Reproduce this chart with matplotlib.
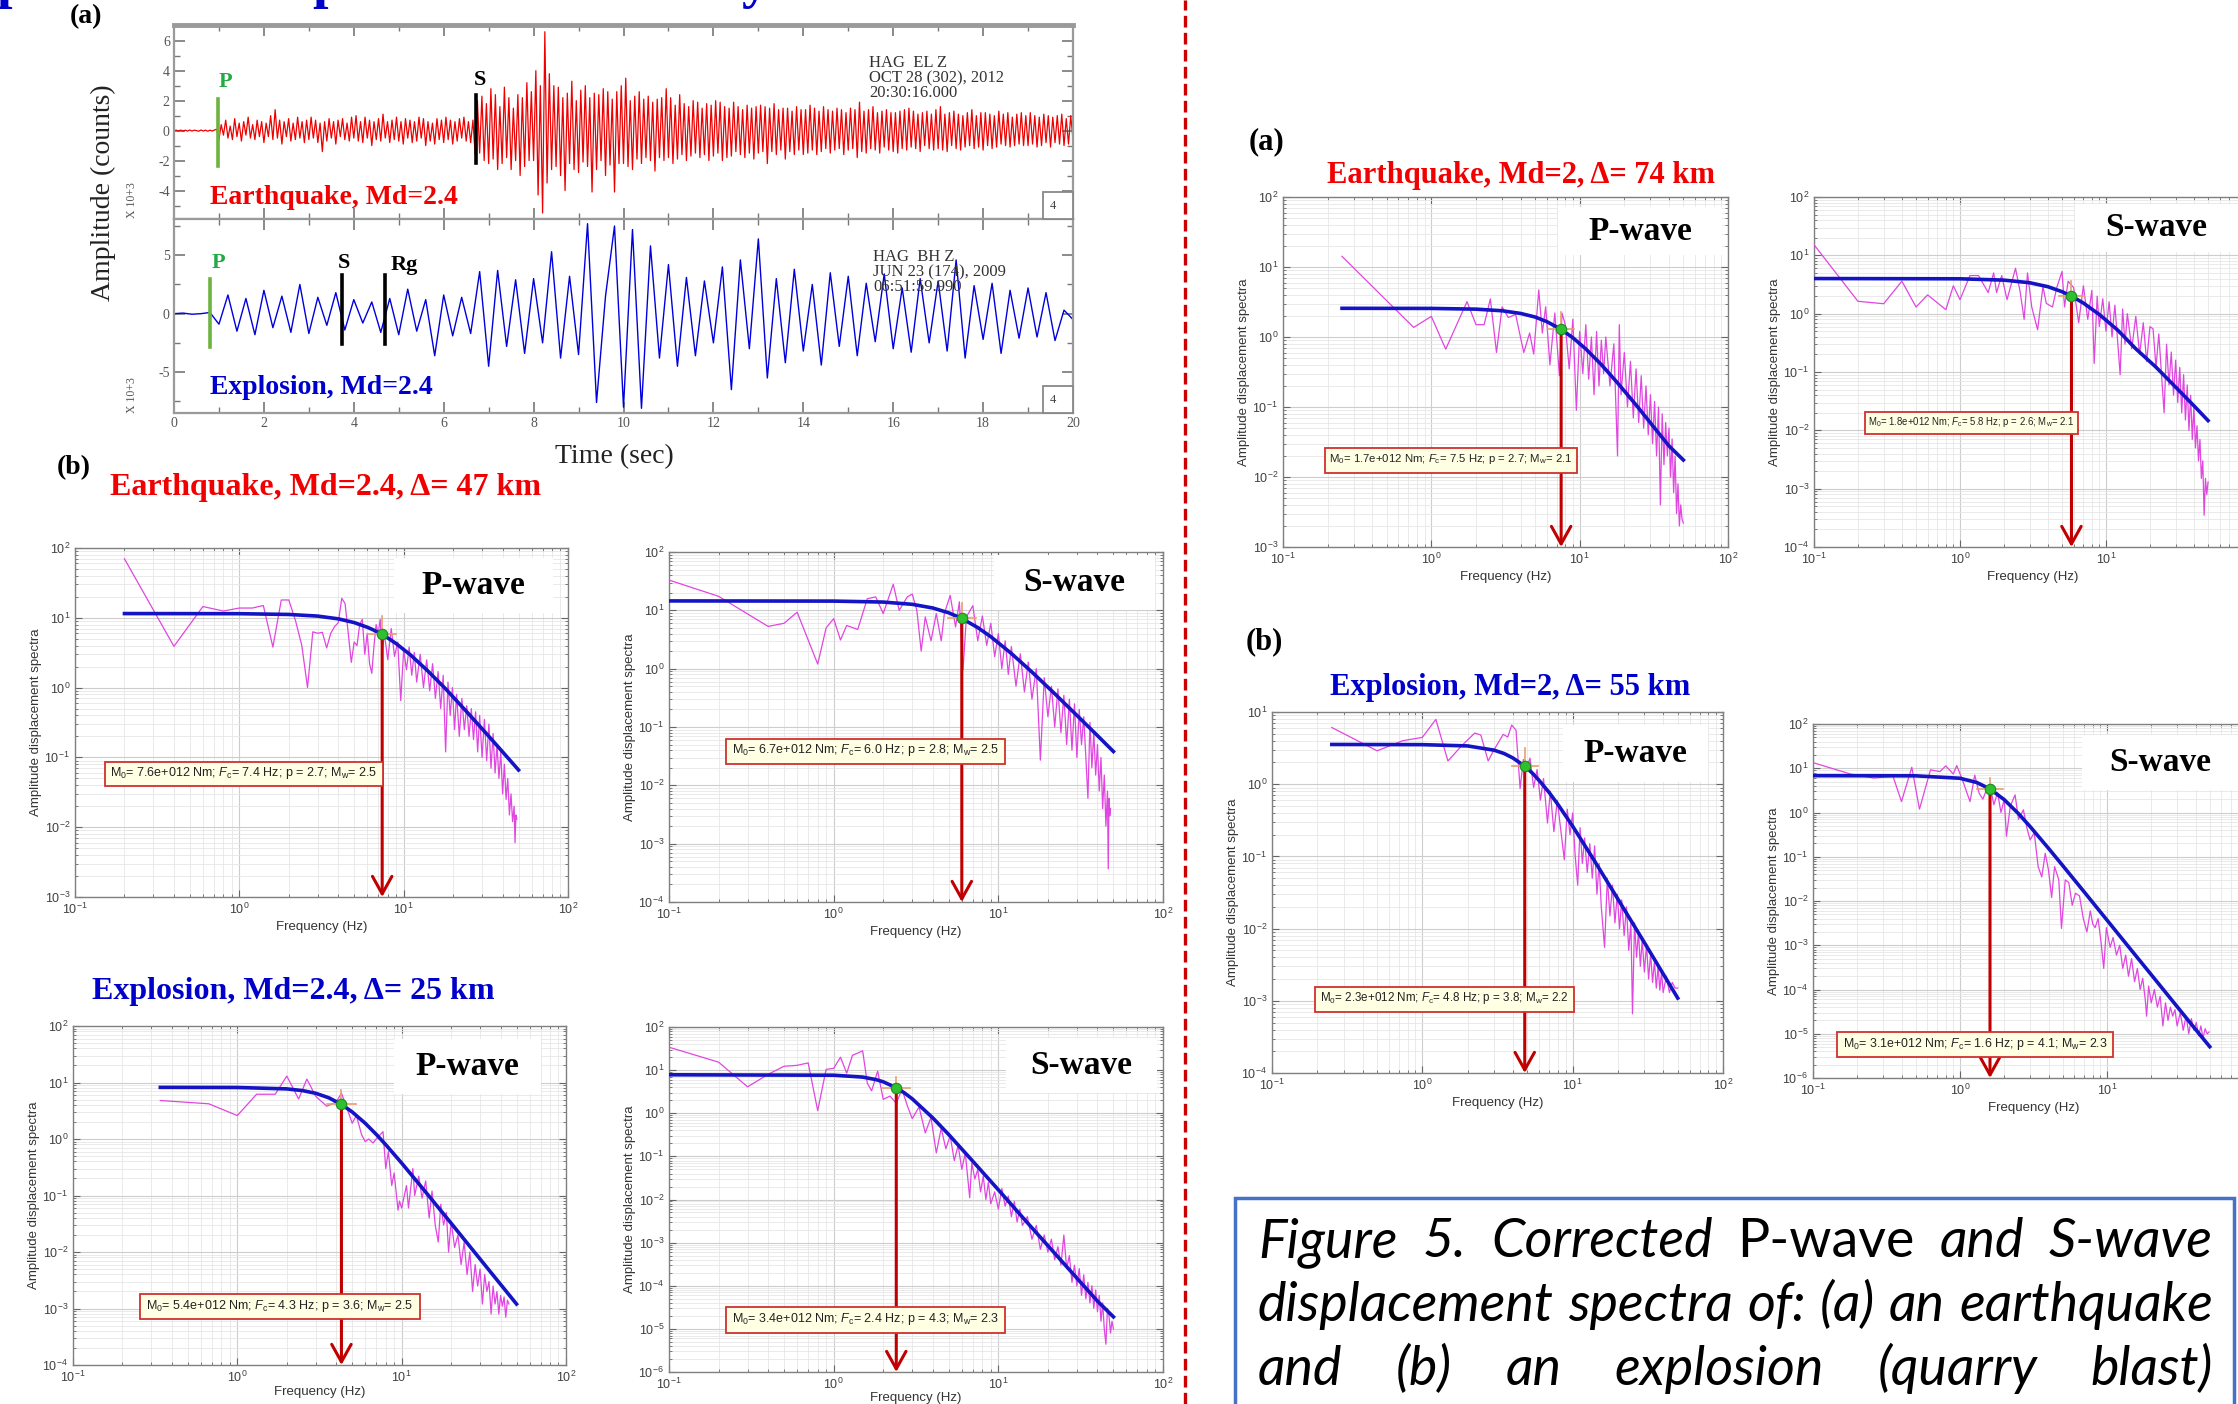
import numpy as np
import matplotlib
matplotlib.use('Agg')
import matplotlib.pyplot as plt
from matplotlib.patches import Rectangle
from matplotlib.lines import Line2D
from matplotlib.ticker import LogLocator, MultipleLocator, NullFormatter, FixedLocator

plt.rcParams['font.family'] = ['Liberation Sans', 'DejaVu Sans']
plt.rcParams['mathtext.fontset'] = 'custom'
plt.rcParams['mathtext.rm'] = 'Liberation Sans'
plt.rcParams['mathtext.it'] = 'Liberation Sans:italic'
plt.rcParams['mathtext.bf'] = 'Liberation Sans:bold'
plt.rcParams['mathtext.sf'] = 'Liberation Sans'
plt.rcParams['axes.unicode_minus'] = False

W, H = 2238, 1404
SERIF = 'Liberation Serif'
RED = '#F00000'
BLUE = '#0000CC'

# ======================= DATA =======================
# Seismograms (sampled amplitudes, x10^3 counts)
eq_dt = 0.05
eq_trace = (
    [0,0.03,-0.03,0.04,-0.04,0.03,-0.03,0.04,-0.03,0.03,0,-0.04,0.04,-0.03,0.03,-0.04,0.03,-0.03,0.04,0.1] +
    [-0.6,0.4,-0.3,0.7,-0.5,0.3,-0.6,0.8,-0.4,0.5,-0.7,0.6,-0.3,0.9,-0.5,0.4,-0.6,0.7,-0.4,0.6] +
    [-0.8,0.5,-0.4,1.0,-0.6,1.4,-0.5,0.7,-0.9,0.6,-0.4,0.8,-0.7,0.5,-0.6,0.9,-0.5,0.6,-0.8,0.7] +
    [-0.6,0.9,-0.5,0.7,-0.8,0.5,-1.4,0.6,-0.7,0.8,-0.5,0.6,-0.9,0.7,-0.4,0.8,-0.6,0.5,-0.7,0.9] +
    [-0.5,1.0,-0.7,0.6,-0.8,0.9,-0.5,0.7,-1.0,0.6,-0.6,0.8,-0.7,1.1,-0.5,0.6,-0.8,0.7,-0.6,0.9] +
    [-0.7,0.6,-0.9,0.8,-0.5,0.7,-0.8,0.6,-0.7,0.9,-0.5,0.8,-1.0,0.6,-0.7,0.5,-0.9,0.8,-0.6,0.7] +
    [-0.8,0.9,-0.6,0.7,-0.9,0.6,-0.7,0.8,-0.5,0.9,-0.7,0.6,-0.8,0.7,-1.6,2.0,-1.5,2.3,-2.0,1.8] +
    [-2.2,2.8,-1.9,2.4,-2.6,1.6,-2.2,2.9,-1.8,2.2,-2.6,1.5,-2.0,2.4,-3.0,2.2,-2.4,3.2,-2.0,2.6] +
    [-2.0,4.0,-4.3,3.0,-5.5,6.6,-3.5,3.8,-2.6,3.0,-2.4,2.9,-3.0,2.2,-4.0,2.5,-2.2,3.3,-2.6,2.0] +
    [-2.8,2.7,-2.1,3.0,-2.4,2.2,-4.1,2.5,-2.6,2.4,-2.0,2.8,-3.0,2.6,-2.3,2.1,-4.1,2.6,-2.2,3.0] +
    [-2.2,3.5,-2.4,2.0,-2.6,2.3,-1.9,2.6,-2.2,2.1,-1.8,2.3,-2.0,1.9,-2.7,2.1,-1.8,2.2,-2.0,2.8] +
    [-1.8,2.2,-2.2,1.7,-1.9,2.4,-1.6,1.8,-2.0,1.6,-1.7,2.0,-1.5,1.9,-1.8,1.5,-1.6,1.8,-2.0,1.7] +
    [-1.7,2.0,-1.5,1.9,-2.0,1.6,-1.8,1.5,-1.7,1.9,-1.4,1.6,-1.6,1.4,-1.8,1.7,-1.5,1.5,-1.9,1.6] +
    [-1.5,1.7,-1.4,1.6,-2.2,1.5,-1.4,1.8,-1.6,1.4,-1.3,1.5,-1.9,1.5,-1.4,1.3,-1.6,1.6,-1.3,1.4] +
    [-1.6,1.4,-1.5,1.7,-1.3,1.5,-1.6,1.3,-1.4,1.6,-1.2,1.4,-1.5,1.3,-1.3,1.5,-1.2,1.4,-1.6,1.2] +
    [-1.3,1.5,-1.2,1.4,-1.8,1.9,-1.4,1.3,-1.5,1.4,-1.2,1.6,-1.3,1.2,-1.5,1.3,-1.1,1.4,-1.3,1.2] +
    [-1.4,1.2,-1.5,1.3,-1.2,1.4,-1.3,1.5,-1.1,1.3,-1.2,1.1,-1.4,1.2,-1.0,1.3,-1.2,1.1,-1.3,1.4] +
    [-1.2,1.6,-1.3,1.1,-1.4,1.2,-1.0,1.3,-1.2,1.1,-1.3,1.0,-1.1,1.2,-1.0,1.4,-1.2,1.0,-1.1,1.2] +
    [-1.3,1.2,-1.0,1.1,-1.2,1.0,-1.1,1.3,-0.9,1.1,-1.0,1.2,-1.1,0.9,-1.0,1.1,-0.9,1.2,-1.0,1.0] +
    [-1.0,1.2,-0.9,1.0,-1.1,0.9,-1.0,1.1,-0.8,1.0,-1.1,0.9,-0.8,1.0,-0.9,1.1,-1.0,0.8,-0.9,1.0] +
    [-0.6])

ex_dt = 0.2
ex_trace = (
    [0, 0.05, -0.05, 0, 0.1] +
    [-0.9, 1.6, -1.5, 1.3, -1.8, 2.0, -1.2, 1.5, -1.6, 2.5] +
    [-1.7, 1.4, -1.0, 1.8, -1.4, 1.2, -0.8, 1.0, -1.6, 1.3] +
    [-1.8, 2.1, -1.5, 1.2, -3.6, 1.6, -1.9, 1.4, -1.7, 3.6] +
    [-4.5, 3.7, -2.8, 2.9, -3.4, 3.0, -2.5, 5.3, -3.8, 3.2] +
    [-3.5, 7.7, -7.6, 1.5, 7.5, -8.0, 7.2, -8.1, 5.8, -3.8] +
    [4.2, -4.5, 3.1, -3.6, 2.8, -2.5, 4.0, -6.5, 4.6, -3.0] +
    [6.4, -5.5, 3.0, -4.2, 3.8, -3.2, 2.5, -4.4, 3.5, -2.8] +
    [3.2, -3.6, 2.6, -2.4, 3.4, -3.0, 2.2, -3.3, 3.0, -2.5] +
    [2.8, -3.2, 4.6, -3.8, 2.4, -2.2, 2.6, -3.4, 2.0, -2.1] +
    [2.2, -2.0, 1.8, -2.3, 0.3, -0.5])

eq_picks = [("P", 0.97, -2.33, 2.13), ("S", 6.71, -2.16, 2.36)]
ex_picks = [("P", 0.81, -2.84, 2.96), ("S", 3.73, -2.56, 3.33), ("Rg", 4.70, -2.56, 3.33)]

# Spectra: (frequency Hz, amplitude) observed
eq24_p = [(0.2,70),(0.4,3.9),(0.6,14.5),(0.8,12.5),(1.0,13.8),(1.2,13.8),(1.4,15),(1.6,3.8),(1.8,18),(2.0,18),
    (2.2,9),(2.4,4),(2.6,1.0),(2.8,6.3),(3.0,6.0),(3.2,6.2),(3.4,3.7),(3.6,6.0),(3.8,7.5),(4.0,8.5),(4.2,19),
    (4.4,16),(4.6,6),(4.8,2.3),(5.0,4.5),(5.2,4),(5.4,8),(5.6,9.5),(5.8,3),(6.0,6),(6.2,2.2),(6.4,1.6),(6.6,4),
    (6.8,8),(7.0,6),(7.2,9.5),(7.4,3),(7.6,6),(7.8,4),(8.0,2.5),(8.4,7),(8.8,2.8),(9.2,4.5),(9.6,0.65),(10.0,3.5),
    (10.4,1.8),(10.8,3.8),(11.2,1.5),(11.6,3.2),(12.0,1.2),(12.6,3.0),(13.2,1.0),(13.8,2.5),(14.4,0.9),(15.0,2.2),
    (15.6,0.7),(16.2,1.7),(16.8,0.5),(17.4,1.5),(18.0,0.12),(18.6,1.2),(19.2,0.4),(19.8,1.0),(20.4,0.25),(21.0,0.8),
    (21.8,0.2),(22.6,0.7),(23.4,0.25),(24.2,0.55),(25.0,0.2),(25.8,0.5),(26.6,0.18),(27.4,0.45),(28.2,0.12),
    (29.0,0.4),(30.0,0.1),(31.0,0.35),(32.0,0.09),(33.0,0.3),(34.0,0.07),(35.0,0.22),(36.0,0.06),(37.0,0.15),
    (38.0,0.05),(39.0,0.12),(40.0,0.03),(41.0,0.08),(42.0,0.025),(43.0,0.05),(44.0,0.015),(45.0,0.03),(46.0,0.012),
    (47.0,0.02),(47.6,0.006),(48.2,0.015),(48.8,0.013)]
eq24_s = [(0.1,33),(0.2,17.4),(0.4,5.3),(0.5,6.0),(0.6,9.3),(0.8,1.2),(0.9,5),(1.0,7.2),(1.1,3.1),(1.2,5.5),
    (1.4,4.7),(1.5,8.8),(1.6,15.8),(1.8,17),(2.0,8.8),(2.3,28),(2.5,10),(2.8,17),(3.0,19),(3.2,10),(3.4,2),(3.6,7.7),
    (3.9,3),(4.2,8.8),(4.5,3),(4.7,8.8),(5.1,18),(5.5,5.2),(5.8,14),(6.1,0.95),(6.4,7.7),(7.0,12),(7.5,3),(8.0,8),
    (8.5,2.5),(9.0,6),(9.5,1.6),(10,4),(10.5,1.0),(11,3),(11.5,0.8),(12,2.4),(12.8,0.5),(13.6,1.8),(14.4,0.4),
    (15.2,1.3),(16,0.3),(17,1.0),(18,0.027),(19,0.7),(20,0.15),(21,0.5),(22,0.1),(23,0.45),(24,0.08),(25,0.35),
    (26,0.05),(27,0.3),(28,0.04),(29,0.25),(30,0.03),(31,0.2),(32,0.05),(33,0.15),(34,0.03),(35,0.006),(36,0.12),
    (37,0.02),(38,0.08),(39,0.015),(40,0.05),(41,0.008),(42,0.03),(43,0.004),(44,0.015),(45,0.002),(46,0.008),
    (46.5,0.00037),(47,0.006),(47.5,0.003),(48,0.004)]
ex24_p = [(0.34,4.8),(0.67,4.2),(1.0,2.6),(1.31,6.2),(1.7,6.2),(2.0,13),(2.36,5.1),(2.65,11.5),(3.0,5.7),(3.5,3.8),
    (4.0,4.5),(4.3,6.5),(4.7,3.2),(5.0,1.9),(5.3,2.6),(5.7,1.2),(6.0,0.9),(6.3,1.0),(6.7,0.85),(7.0,1.0),(7.7,1.35),
    (8.0,0.3),(8.3,0.6),(8.7,0.15),(9.0,0.25),(9.5,0.055),(9.7,0.08),(10.0,0.06),(10.3,0.09),(10.7,0.15),(11.0,0.06),
    (11.3,0.12),(11.7,0.3),(12.0,0.1),(12.7,0.22),(13.3,0.09),(14.0,0.18),(14.7,0.04),(15.3,0.12),(16.0,0.03),
    (16.7,0.015),(17.3,0.07),(18.0,0.03),(18.7,0.05),(19.3,0.01),(20,0.035),(21,0.012),(22,0.02),(23,0.006),
    (24,0.015),(25,0.004),(26,0.01),(27,0.002),(28,0.006),(29,0.0025),(30,0.005),(31,0.0012),(32,0.004),(33,0.002),
    (34,0.003),(35,0.0008),(36,0.0025),(37,0.0012),(38,0.002),(39,0.0008),(40,0.0017),(41,0.0011),(42,0.0016),
    (43,0.0007),(44,0.0014),(45,0.0012)]
ex24_s = [(0.1,34),(0.2,15.3),(0.3,4.1),(0.4,8),(0.5,12.3),(0.6,12.9),(0.7,14.7),(0.8,1.15),(0.9,10.4),(1.0,11),
    (1.1,20),(1.2,8.5),(1.3,22),(1.5,28),(1.6,5),(1.7,3.3),(1.85,9.5),(2.0,2.1),(2.2,2.5),(2.4,1.7),(2.6,3.6),
    (2.8,1.5),(3.0,0.75),(3.3,1.4),(3.6,0.35),(3.9,0.8),(4.2,0.12),(4.5,0.45),(4.8,0.15),(5.1,0.3),(5.4,0.08),
    (5.7,0.18),(6.0,0.05),(6.3,0.12),(6.7,0.011),(6.9,0.07),(7.2,0.03),(7.5,0.05),(7.8,0.015),(8.1,0.035),(8.4,0.01),
    (8.7,0.025),(9.0,0.008),(9.5,0.015),(10,0.006),(10.5,0.018),(11,0.007),(11.5,0.012),(12,0.004),(12.5,0.009),
    (13,0.003),(13.5,0.006),(14,0.0025),(15,0.004),(16,0.0012),(17,0.0025),(18,0.0007),(19,0.0015),(20,0.0006),
    (21,0.0012),(22,0.0004),(23,0.0008),(24,0.0003),(25,0.0015),(26,0.00025),(27,0.0005),(28,0.00012),(29,0.0003),
    (30,0.0001),(31,0.00025),(32,0.00006),(33,0.00018),(34,0.00005),(35,0.00012),(36,0.00004),(37,0.0001),
    (38,0.00003),(39,0.00008),(40,0.000025),(41,0.00006),(42,0.000015),(43,0.00004),(44,0.00001),(45,0.0000044),
    (46,0.00003),(47,0.00002),(48,0.000008),(49,0.000015),(50,0.00001)]
eq2_p = [(0.25,14.2),(0.76,1.37),(1.0,1.97),(1.25,0.67),(1.74,3.2),(2.0,1.5),(2.27,1.5),(2.5,3.5),(2.75,0.6),
    (3.0,2.7),(3.3,1.9),(3.7,2.1),(4.2,0.6),(4.6,1.14),(4.9,0.57),(5.3,4.7),(5.6,1.14),(5.9,2.7),(6.3,0.4),(6.8,2.2),
    (7.3,0.28),(7.6,2.2),(8,1.5),(8.5,0.35),(9,1.8),(9.5,0.09),(10,1.2),(10.5,0.3),(11,1.5),(11.5,0.25),(12,1.0),
    (12.5,0.15),(13,1.2),(13.5,0.2),(14,0.9),(14.5,0.3),(15,1.0),(16,0.2),(17,0.8),(18,0.02),(18.5,1.5),(19,0.15),
    (20,0.6),(21,0.1),(22,0.45),(23,0.07),(24,0.35),(25,0.06),(26,0.28),(27,0.05),(28,0.2),(29,0.04),(30,0.15),
    (31,0.03),(32,0.12),(33,0.02),(34,0.1),(35,0.004),(36,0.08),(37,0.015),(38,0.06),(39,0.02),(40,0.05),(41,0.01),
    (42,0.035),(43,0.006),(44,0.02),(45,0.003),(46,0.008),(47,0.002),(48,0.004),(49,0.0025),(50,0.0022)]
eq2_s = [(0.1,15.2),(0.2,1.63),(0.3,1.48),(0.4,3.6),(0.5,1.3),(0.6,2.1),(0.8,1.17),(0.9,3.0),(1.0,1.74),(1.17,4.5),
    (1.34,4.5),(1.56,2.3),(1.7,5),(1.78,2.3),(1.93,4.5),(2.1,1.74),(2.4,6),(2.58,2.4),(2.75,0.8),(2.9,5),(3.1,1.3),
    (3.4,0.53),(3.7,2.9),(3.9,1.5),(4.3,1.3),(4.6,2.8),(5.0,5.3),(5.2,1.3),(5.5,3.6),(6,2.8),(6.5,0.7),(7,3),
    (7.5,0.8),(8,2.5),(8.3,0.14),(8.7,2),(9,0.6),(9.5,1.8),(10,0.5),(10.5,1.6),(11,0.4),(11.5,1.4),(12,0.35),
    (12.5,0.09),(13,1.2),(13.5,0.3),(14,1.0),(15,0.25),(16,0.9),(17,0.2),(18,0.7),(19,0.15),(20,0.6),(21,0.55),
    (22,0.12),(23,0.45),(24,0.09),(25,0.02),(26,0.3),(27,0.06),(28,0.22),(29,0.04),(30,0.16),(31,0.03),(32,0.12),
    (33,0.02),(34,0.09),(35,0.015),(36,0.06),(37,0.01),(38,0.04),(39,0.007),(40,0.025),(41,0.005),(42,0.012),
    (43,0.003),(44,0.007),(45,0.0015),(46,0.003),(47,0.00035),(48,0.0015),(49,0.0008),(50,0.0013)]
ex2_p = [(0.25,6.1),(0.5,2.9),(0.74,4.0),(1.0,4.45),(1.23,7.9),(1.48,2.1),(1.85,3.5),(2.23,5.1),(2.45,4.8),
    (2.74,2.1),(3.0,3.0),(3.45,4.9),(3.7,4.5),(3.93,6.6),(4.2,5.6),(4.47,0.87),(4.7,2.2),(4.9,1.6),(5.2,2.3),
    (5.5,0.9),(5.8,1.6),(6.1,0.6),(6.4,1.2),(6.8,0.29),(7.1,0.8),(7.5,0.22),(7.9,0.6),(8.3,0.25),(8.8,0.09),
    (9.2,0.45),(9.6,0.2),(10.0,0.4),(10.4,0.1),(10.8,0.04),(11.2,0.25),(11.6,0.08),(12.0,0.18),(12.5,0.06),
    (13.0,0.15),(13.5,0.05),(14.0,0.14),(14.5,0.03),(15.0,0.08),(15.5,0.02),(16.3,0.0055),(17.0,0.05),(17.7,0.015),
    (18.4,0.04),(19.1,0.012),(19.8,0.03),(20.5,0.01),(21.2,0.025),(22.0,0.008),(22.8,0.02),(23.6,0.005),(24.4,0.012),
    (25.0,0.00066),(25.8,0.012),(26.6,0.004),(27.4,0.009),(28.2,0.003),(29.0,0.007),(30,0.0025),(31,0.006),
    (32,0.002),(33,0.0045),(34,0.0018),(35,0.0035),(36,0.0015),(37,0.003),(38,0.0014),(39,0.0025),(40,0.0013),
    (42,0.0022),(44,0.0013),(46,0.0018),(48,0.0015),(50,0.0015)]
ex2_s = [(0.1,13.4),(0.18,7.4),(0.26,6.0),(0.35,6.6),(0.4,1.77),(0.47,10.5),(0.53,1.19),(0.63,9.2),(0.73,8.4),
    (0.8,11.3),(0.9,7.4),(0.95,11.5),(1.03,5.9),(1.17,1.77),(1.26,7.0),(1.35,2.7),(1.43,2.0),(1.5,3.0),(1.6,4),
    (1.7,1.5),(1.8,2.8),(1.9,1.0),(2.0,2.0),(2.07,0.29),(2.2,1.4),(2.37,2.5),(2.5,0.7),(2.7,1.15),(2.85,0.45),
    (3.0,0.24),(3.2,0.35),(3.4,0.06),(3.6,0.035),(3.8,0.12),(4.0,0.05),(4.2,0.012),(4.4,0.06),(4.7,0.03),
    (4.9,0.0024),(5.2,0.03),(5.5,0.026),(5.8,0.008),(6.1,0.015),(6.5,0.013),(6.9,0.004),(7.3,0.002),(7.7,0.006),
    (8.0,0.003),(8.3,0.0025),(8.7,0.004),(9.1,0.0012),(9.5,0.0003),(9.9,0.0025),(10.5,0.0009),(11.0,0.0015),
    (11.6,0.0006),(12.2,0.001),(12.8,0.0003),(13.4,0.0006),(14.0,0.0002),(14.7,0.0005),(15.4,0.00015),(16.1,0.0003),
    (16.8,0.0001),(17.5,0.00018),(18.2,0.00006),(18.6,0.000025),(19.2,0.00012),(20,0.00005),(21,0.0001),
    (22,0.00004),(23,0.00007),(24,0.000015),(25,0.00005),(26,0.00002),(27,0.00004),(28,0.000025),(29,0.000035),
    (30,0.000015),(31.5,0.00003),(33,0.000012),(34.5,0.000025),(36,0.00001),(37.5,0.000022),(39,0.000012),
    (40.5,0.000018),(42,0.000009),(43.5,0.000015),(45,0.000008),(46.5,0.000013),(48,0.00001),(49.5,0.000011)]

# Fitted source-model curves
eq24_p_fit = [(0.2,11.5),(1,11.45),(2,11.17),(3,10.58),(4,9.66),(5,8.54),(6,7.33),(6.5,6.75),(7.4,5.75),(8,5.15),
    (9,4.27),(11,2.94),(14,1.74),(18,0.96),(24,0.46),(32,0.217),(40,0.12),(50,0.066)]
eq24_s_fit = [(0.1,14.5),(1,14.4),(2,13.86),(3,12.68),(4,10.97),(5,9.06),(6,7.25),(7.5,5.06),(9,3.53),(12,1.82),
    (16,0.875),(22,0.372),(30,0.158),(40,0.0712),(50,0.038)]
ex24_p_fit = [(0.34,8.2),(1,8.16),(2,7.71),(2.5,7.18),(3,6.44),(3.6,5.37),(4.3,4.1),(5,3.01),(6,1.90),(7,1.21),
    (8,0.793),(10,0.375),(14,0.115),(20,0.0323),(30,0.0075),(40,0.00267),(50,0.0012)]
ex24_s_fit = [(0.1,7.8),(1,7.62),(1.5,6.89),(1.8,6.05),(2,5.36),(2.4,3.9),(2.7,2.93),(3,2.16),(4,0.78),(5,0.32),
    (7,0.077),(10,0.0168),(15,0.0029),(20,0.00085),(30,0.00015),(40,0.000044),(50,0.000019)]
eq2_p_fit = [(0.25,2.57),(1,2.56),(2,2.5),(3,2.37),(4,2.17),(5,1.93),(6,1.66),(7.5,1.285),(9,0.975),(11,0.675),
    (14,0.403),(18,0.221),(24,0.107),(32,0.05),(40,0.0278),(50,0.0175)]
eq2_s_fit = [(0.1,4.0),(1,3.96),(2,3.76),(3,3.39),(4,2.9),(5,2.38),(5.8,2.0),(7,1.52),(9,0.967),(12,0.525),
    (16,0.25),(22,0.121),(30,0.055),(40,0.0264),(50,0.0147)]
ex2_p_fit = [(0.25,3.55),(1,3.53),(2,3.39),(3,2.96),(3.5,2.66),(4,2.31),(4.8,1.78),(5.4,1.42),(6,1.12),(7,0.76),
    (8,0.52),(10,0.262),(14,0.086),(20,0.0256),(30,0.0064),(40,0.00236),(50,0.00109)]
ex2_s_fit = [(0.1,6.8),(0.5,6.74),(1,5.94),(1.3,4.77),(1.6,3.4),(2,1.95),(2.5,0.94),(3,0.48),(4,0.155),(5,0.063),
    (7,0.016),(10,0.0037),(15,0.0007),(20,0.000216),(30,0.000041),(40,0.0000126),(50,0.0000051)]

# corner frequency (Hz) and spectral level at the corner marker
corner = {'eq24_p': (7.4, 5.8), 'eq24_s': (6.0, 7.3), 'ex24_p': (4.3, 4.1), 'ex24_s': (2.4, 3.8),
          'eq2_p': (7.5, 1.28), 'eq2_s': (5.8, 2.0), 'ex2_p': (4.8, 1.78), 'ex2_s': (1.6, 3.4)}

notes = {
    'eq24_p': ('7.6', '7.4', '2.7', '2.5'), 'eq24_s': ('6.7', '6.0', '2.8', '2.5'),
    'ex24_p': ('5.4', '4.3', '3.6', '2.5'), 'ex24_s': ('3.4', '2.4', '4.3', '2.3'),
    'eq2_p': ('1.7', '7.5', '2.7', '2.1'), 'eq2_s': ('1.8', '5.8', '2.6', '2.1'),
    'ex2_p': ('2.3', '4.8', '3.8', '2.2'), 'ex2_s': ('3.1', '1.6', '4.1', '2.3')}

titles = [("Earthquake, Md=2.4, \u0394= 47 km", RED), ("Explosion, Md=2.4, \u0394= 25 km", BLUE),
          ("Earthquake, Md=2, \u0394= 74 km", RED), ("Explosion, Md=2, \u0394= 55 km", BLUE)]

caption_words = [["Figure", "5.", "Corrected", "P-wave", "and", "S-wave"],
                 ["displacement", "spectra", "of:", "(a)", "an", "earthquake"],
                 ["and", "(b)", "an", "explosion", "(quarry", "blast)"]]
caption_upright = [[False, False, False, True, False, False], [False] * 6, [False] * 6]

# ======================= FIGURE =======================
fig = plt.figure(figsize=(W / 100, H / 100), dpi=100)
fig.patch.set_facecolor('white')


def add_ax(l, t, r, b):
    return fig.add_axes([l / W, 1 - b / H, (r - l) / W, (b - t) / H])


def ftext(x, y, s, **kw):
    return fig.text(x / W, 1 - y / H, s, **kw)


def frect(l, t, r, b, **kw):
    p = Rectangle((l / W, 1 - b / H), (r - l) / W, (b - t) / H, transform=fig.transFigure, **kw)
    fig.add_artist(p)
    return p


# ---------- seismograms ----------
def seis_axes(box, y, dt, color, ylim, yticks, yminor, xlabels, lw):
    ax = add_ax(*box)
    t = np.arange(len(y)) * dt
    ax.plot(t, y, color=color, lw=lw)
    ax.set_xlim(0, 20)
    ax.set_ylim(*ylim)
    ax.xaxis.set_major_locator(MultipleLocator(2))
    ax.xaxis.set_minor_locator(MultipleLocator(1))
    ax.set_yticks(yticks)
    ax.yaxis.set_minor_locator(MultipleLocator(yminor))
    ax.tick_params(which='both', direction='in', top=True, right=True, color='#777777',
                   labelcolor='#555555', labelsize=10, labelfontfamily=SERIF, pad=3)
    ax.tick_params(which='major', length=8, width=1.2)
    ax.tick_params(which='minor', length=4, width=1.0)
    if not xlabels:
        ax.tick_params(labelbottom=False)
    for s in ax.spines.values():
        s.set_color('#9A9A9A')
        s.set_linewidth(1.6)
    return ax


ax_eq = seis_axes((174, 25, 1073, 219), eq_trace, eq_dt, '#EE0000', (-5.9, 7.05), [-4, -2, 0, 2, 4, 6], 1,
                  False, 0.9)
ax_eq.spines['top'].set_linewidth(3.5)
ax_ex = seis_axes((174, 219, 1073, 413), ex_trace, ex_dt, '#0000DD', (-8.5, 8.1), [-5, 0, 5], 2.5, True, 1.0)

for name, tp, y0, y1 in eq_picks:
    ax_eq.plot([tp, tp], [y0, y1], color='#6DB33F' if name == 'P' else 'black', lw=2.6, zorder=5)
for name, tp, y0, y1 in ex_picks:
    ax_ex.plot([tp, tp], [y0, y1], color='#6DB33F' if name == 'P' else 'black', lw=2.6, zorder=5)

ftext(225, 82, "P", color='#22AA44', fontsize=16, fontweight='bold', family=SERIF, ha='center', va='center')
ftext(480, 80, "S", color='black', fontsize=16, fontweight='bold', family=SERIF, ha='center', va='center')
ftext(218, 263, "P", color='#22AA44', fontsize=16, fontweight='bold', family=SERIF, ha='center', va='center')
ftext(344, 263, "S", color='black', fontsize=16, fontweight='bold', family=SERIF, ha='center', va='center')
ftext(404, 265, "Rg", color='black', fontsize=16, fontweight='bold', family=SERIF, ha='center', va='center')
ftext(210, 197, "Earthquake, Md=2.4", color=RED, fontsize=20, fontweight='bold', family=SERIF, ha='left', va='center')
ftext(210, 387, "Explosion, Md=2.4", color=BLUE, fontsize=20, fontweight='bold', family=SERIF, ha='left', va='center')
for i, s in enumerate(["HAG  EL Z", "OCT 28 (302), 2012", "20:30:16.000"]):
    ftext(869, 63 + 15 * i, s, color='#333333', fontsize=12, family=SERIF, ha='left', va='center')
for i, s in enumerate(["HAG  BH Z", "JUN 23 (174), 2009", "06:51:59.990"]):
    ftext(873, 257 + 15 * i, s, color='#333333', fontsize=12, family=SERIF, ha='left', va='center')
for yb in (219, 413):
    frect(1043, yb - 27, 1073, yb, facecolor='white', edgecolor='#888888', lw=1.3, zorder=4)
    ftext(1053, yb - 13, "4", color='#444444', fontsize=9, family=SERIF, ha='center', va='center', zorder=5)
ftext(132, 200, "X 10+3", color='#555555', fontsize=8.5, family=SERIF, rotation=90, ha='center', va='center')
ftext(132, 395, "X 10+3", color='#555555', fontsize=8.5, family=SERIF, rotation=90, ha='center', va='center')
ftext(103, 193, "Amplitude (counts)", color='#222222', fontsize=20, family=SERIF, rotation=90, ha='center', va='center')
ftext(614, 457, "Time (sec)", color='#222222', fontsize=20, family=SERIF, ha='center', va='center')

# top blue fragments (title cut off) and panel letters
for xx, ch in [(12, 'p'), (328, 'p'), (755, 'y')]:
    fig.text(xx / W, 1 + 3 / H, ch, color=BLUE, fontsize=40, fontweight='bold', family=SERIF,
             ha='center', va='baseline')
ftext(86, 17, "(a)", fontsize=20, fontweight='bold', family=SERIF, ha='center', va='center')
ftext(74, 468, "(b)", fontsize=20, fontweight='bold', family=SERIF, ha='center', va='center')
ftext(1267, 142, "(a)", fontsize=22, fontweight='bold', family=SERIF, ha='center', va='center')
ftext(1264, 642, "(b)", fontsize=22, fontweight='bold', family=SERIF, ha='center', va='center')

# titles
for (txt, col), (x, y, fs) in zip(titles, [(325, 488, 23), (293, 992, 23), (1521, 175, 22), (1510, 688, 22)]):
    ftext(x, y, txt, color=col, fontsize=fs, fontweight='bold', family=SERIF, ha='center', va='center')


# ---------- spectra ----------
def spectrum(key, obs, fit, box, ylim, wave, wbox, abox, afs, xpad=3, xdecades=None):
    ax = add_ax(*box)
    ax.set_xscale('log')
    ax.set_yscale('log')
    ax.set_xlim(0.1, 100)
    ax.set_ylim(*ylim)
    for axis in (ax.xaxis, ax.yaxis):
        axis.set_major_locator(LogLocator(base=10, numticks=20))
        axis.set_minor_locator(LogLocator(base=10, subs=np.arange(2, 10), numticks=200))
        axis.set_minor_formatter(NullFormatter())
    if xdecades is not None:
        ax.xaxis.set_major_locator(FixedLocator(xdecades))
    ax.grid(True, which='major', color='#CDCDCD', lw=0.8)
    ax.grid(True, which='minor', color='#E6E6E6', lw=0.6)
    ax.set_axisbelow(True)
    ax.tick_params(which='both', direction='in', top=True, right=True, color='#666666',
                   labelcolor='#404040', labelsize=9)
    ax.tick_params(which='major', length=5)
    ax.tick_params(which='minor', length=2.5)
    for s in ax.spines.values():
        s.set_color('#808080')
        s.set_linewidth(1.0)
    o = np.array(obs, dtype=float).T
    ft = np.array(fit, dtype=float).T
    ax.plot(o[0], o[1], color='#E046E0', lw=0.9, zorder=3)
    ax.plot(ft[0], ft[1], color='#1414C4', lw=2.6, zorder=4)
    fc, ad = corner[key]
    ax.plot([fc / 1.22, fc * 1.22], [ad, ad], color='#E8A070', lw=1.2, zorder=5)
    ax.plot([fc, fc], [ad / 1.5, ad * 1.8], color='#E8A070', lw=1.2, zorder=5)
    ax.annotate('', xy=(fc, ylim[0]), xytext=(fc, ad), annotation_clip=False,
                arrowprops=dict(arrowstyle='->,head_length=0.45,head_width=0.25', color='#C00000',
                                lw=2.2, mutation_scale=28, shrinkA=0, shrinkB=0), zorder=6)
    ax.plot([fc], [ad], 'o', ms=7.5, mfc='#2EC02E', mec='#1E8A1E', mew=0.8, zorder=7)
    ax.set_xlabel('Frequency (Hz)', fontsize=9.5, color='#333333', labelpad=xpad)
    ax.set_ylabel('Amplitude displacement spectra', fontsize=9.5, color='#333333', labelpad=2)
    # wave label box
    frect(*wbox, facecolor='white', edgecolor='none', zorder=5)
    ftext((wbox[0] + wbox[2]) / 2, (wbox[1] + wbox[3]) / 2, wave, fontsize=24, fontweight='bold',
          family=SERIF, ha='center', va='center', zorder=6)
    # parameter note
    m0, fcs, pp, mw = notes[key]
    txt = (r'M$_0$= ' + m0 + r'e+012 Nm; $\mathit{F}_\mathrm{c}$= ' + fcs + ' Hz; p = ' + pp +
           r'; M$_\mathrm{w}$= ' + mw)
    frect(*abox, facecolor='#FFFFE4', edgecolor='#D03030', lw=1.3, zorder=7)
    ftext((abox[0] + abox[2]) / 2, (abox[1] + abox[3]) / 2 - 1, txt, fontsize=afs, color='#222222',
          ha='center', va='center', zorder=8)
    return ax


spectrum('eq24_p', eq24_p, eq24_p_fit, (75, 548, 568, 897), (1e-3, 1e2), 'P-wave',
         (394, 558, 553, 613), (105, 762, 383, 786), 9.0)
spectrum('eq24_s', eq24_s, eq24_s_fit, (669, 552, 1163, 902), (1e-4, 1e2), 'S-wave',
         (994, 555, 1155, 610), (726, 739, 1005, 764), 9.0)
spectrum('ex24_p', ex24_p, ex24_p_fit, (73, 1026, 566, 1365), (1e-4, 1e2), 'P-wave',
         (394, 1039, 541, 1094), (140, 1294, 420, 1319), 9.0, xpad=0.5)
spectrum('ex24_s', ex24_s, ex24_s_fit, (669, 1027, 1163, 1372), (1e-6, 1e2), 'S-wave',
         (1006, 1038, 1157, 1093), (726, 1307, 1005, 1333), 9.0, xpad=0)
spectrum('eq2_p', eq2_p, eq2_p_fit, (1283, 197, 1728, 547), (1e-3, 1e2), 'P-wave',
         (1558, 207, 1722, 255), (1325, 448, 1577, 473), 8.2)
spectrum('eq2_s', eq2_s, eq2_s_fit, (1814, 197, 2252, 547), (1e-4, 1e2), 'S-wave',
         (2075, 204, 2238, 252), (1865, 412, 2078, 434), 6.9, xdecades=[0.1, 1, 10])
spectrum('ex2_p', ex2_p, ex2_p_fit, (1272, 712, 1723, 1073), (1e-4, 1e1), 'P-wave',
         (1563, 725, 1708, 782), (1315, 987, 1574, 1012), 8.4)
spectrum('ex2_s', ex2_s, ex2_s_fit, (1813, 724, 2254, 1078), (1e-6, 1e2), 'S-wave',
         (2082, 735, 2238, 790), (1837, 1032, 2113, 1057), 8.9, xdecades=[0.1, 1, 10])

# divider
fig.add_artist(Line2D([1185 / W, 1185 / W], [0, 1], transform=fig.transFigure, color='#CC0000',
                      lw=2.4, ls=(0, (3.5, 1.6)), zorder=10))

# ---------- caption ----------
frect(1235, 1198, 2234, 1412, facecolor='white', edgecolor='#4472C4', lw=2.5, zorder=9)
renderer = fig.canvas.get_renderer()
probe = fig.text(0, 0, ' '.join(caption_words[1]), fontsize=30, family='Lato', style='italic')
pw = probe.get_window_extent(renderer).width
probe.remove()
cap_fs = 30 * 945 / pw
x_left, x_right = 1258, 2213
baselines = [1257, 1321, 1385]
for words, upr, yb in zip(caption_words, caption_upright, baselines):
    objs = []
    for w_, u in zip(words, upr):
        objs.append(ftext(0, yb, w_, fontsize=cap_fs, family='Lato', style='normal' if u else 'italic',
                          ha='left', va='baseline', color='black', zorder=11))
    widths = [t.get_window_extent(renderer).width for t in objs]
    gap = (x_right - x_left - sum(widths)) / (len(objs) - 1)
    x = x_left
    for t, wd in zip(objs, widths):
        t.set_x(x / W)
        x += wd + gap

fig.savefig('out.png', dpi=100, facecolor='white')
